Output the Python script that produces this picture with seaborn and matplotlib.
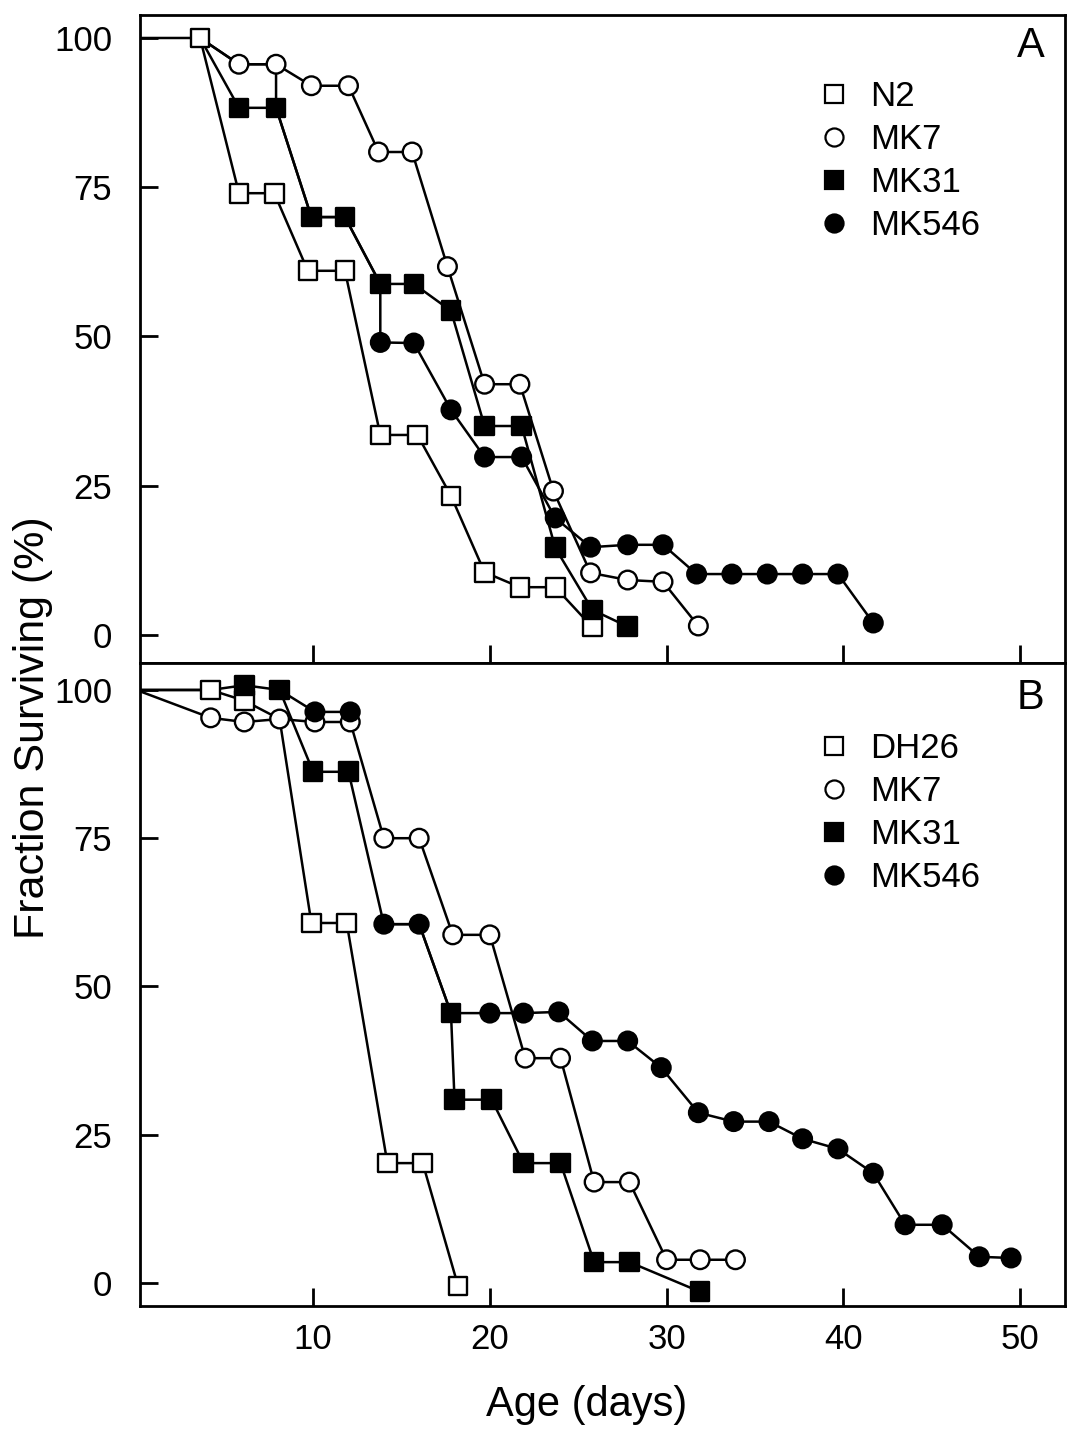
import numpy as np
import pandas as pd
import matplotlib
matplotlib.use("Agg")
import matplotlib.pyplot as plt
from matplotlib.lines import Line2D
import seaborn as sns

# ---------------- Panel A data (age in days, % surviving) ----------------
n2_a_days = [0, 3.6, 5.8, 7.8, 9.7, 11.8, 13.8, 15.9, 17.8, 19.7, 21.7, 23.7, 25.8]
n2_a_surv = [100, 100, 74, 74, 61, 61, 33.5, 33.5, 23.3, 10.5, 8, 8, 1.3]
n2_a_nomark = [0]

mk7_a_days = [3.6, 5.8, 7.9, 9.9, 12.0, 13.7, 15.6, 17.6, 19.7, 21.7, 23.6, 25.7, 27.8, 29.8, 31.8]
mk7_a_surv = [100, 95.6, 95.6, 92, 92, 80.9, 80.9, 61.7, 42, 42, 24.1, 10.4, 9.2, 8.9, 1.5]
mk7_a_nomark = [0]

mk31_a_days = [3.6, 5.8, 7.9, 9.9, 11.8, 13.8, 15.7, 17.8, 19.7, 21.8, 23.7, 25.8, 27.8]
mk31_a_surv = [100, 88.3, 88.3, 70, 70, 58.8, 58.8, 54.3, 35, 35, 14.6, 4.2, 1.4]
mk31_a_nomark = [0]

mk546_a_days = [3.6, 5.8, 7.9, 7.9, 9.9, 11.8, 13.8, 13.8, 15.7, 17.8, 19.7, 21.8, 23.7,
                25.7, 27.8, 29.8, 31.7, 33.7, 35.7, 37.7, 39.7, 41.7]
mk546_a_surv = [100, 95.6, 95.6, 88.3, 70, 70, 58.8, 49, 48.9, 37.7, 29.8, 29.8, 19.6,
                14.7, 15.1, 15.1, 10.2, 10.2, 10.2, 10.2, 10.2, 2]
mk546_a_nomark = [0, 1, 2, 3, 4, 5, 6]

# ---------------- Panel B data ----------------
dh26_b_days = [0, 4.2, 6.1, 8.1, 9.9, 11.9, 14.2, 16.2, 18.2]
dh26_b_surv = [100, 100, 98.2, 95.1, 60.7, 60.7, 20.2, 20.2, -0.5]
dh26_b_nomark = [0, 3]

mk7_b_days = [0, 4.2, 6.1, 8.1, 10.1, 12.1, 14.0, 16.0, 17.9, 20.0, 22.0, 24.0, 25.9,
              27.9, 30.0, 31.9, 33.9]
mk7_b_surv = [100, 95.3, 94.6, 95.1, 94.6, 94.6, 75, 75, 58.7, 58.7, 37.9, 37.9, 17,
              17, 3.9, 3.9, 3.9]
mk7_b_nomark = [0]

mk31_b_days = [0, 4.2, 6.1, 8.1, 10.0, 12.0, 14.0, 16.0, 17.8, 18.0, 20.1, 21.9, 24.0,
               25.9, 27.9, 31.9]
mk31_b_surv = [100, 100, 100.8, 100, 86.2, 86.2, 60.5, 60.5, 45.5, 30.9, 30.9, 20.2, 20.2,
               3.5, 3.5, -1.5]
mk31_b_nomark = [0, 1, 6, 7]

# NaN marks a break in the drawn line
mk546_b_days = [8.1, 10.1, 12.1, np.nan, 14.0, 16.0, 17.8, 20.0, 21.9, 23.9, 25.8, 27.8,
                29.7, 31.8, 33.8, 35.8, 37.7, 39.7, 41.7, 43.5, 45.6, 47.7, 49.5]
mk546_b_surv = [100, 96.3, 96.3, np.nan, 60.5, 60.5, 45.5, 45.5, 45.5, 45.7, 40.8, 40.8,
                36.3, 28.7, 27.2, 27.2, 24.3, 22.6, 18.5, 9.8, 9.8, 4.4, 4.2]
mk546_b_nomark = [0, 6]

panel_a = [("N2", n2_a_days, n2_a_surv, n2_a_nomark),
           ("MK7", mk7_a_days, mk7_a_surv, mk7_a_nomark),
           ("MK31", mk31_a_days, mk31_a_surv, mk31_a_nomark),
           ("MK546", mk546_a_days, mk546_a_surv, mk546_a_nomark)]
panel_b = [("DH26", dh26_b_days, dh26_b_surv, dh26_b_nomark),
           ("MK7", mk7_b_days, mk7_b_surv, mk7_b_nomark),
           ("MK31", mk31_b_days, mk31_b_surv, mk31_b_nomark),
           ("MK546", mk546_b_days, mk546_b_surv, mk546_b_nomark)]

marks = {"N2": "s", "DH26": "s", "MK7": "o", "MK31": "s", "MK546": "o"}
faces = {"N2": "white", "DH26": "white", "MK7": "white", "MK31": "black", "MK546": "black"}

y_ticks = [0, 25, 50, 75, 100]
x_ticks = [10, 20, 30, 40, 50]


def build_frame(series):
    rows = []
    for strain, days, surv, nomark in series:
        seg = 0
        for i, (d, s) in enumerate(zip(days, surv)):
            if np.isnan(d):
                seg += 1
                continue
            rows.append({"strain": strain, "day": d, "surv": s,
                         "unit": f"{strain}-{seg}", "mark": i not in nomark})
    return pd.DataFrame(rows)


sns.set_style("white")
plt.rcParams["font.family"] = ["Liberation Sans", "DejaVu Sans"]
plt.rcParams["text.color"] = "black"
plt.rcParams["axes.labelcolor"] = "black"
plt.rcParams["xtick.color"] = "black"
plt.rcParams["ytick.color"] = "black"

fig = plt.figure(figsize=(10.86, 14.48), dpi=100)
W, H = 1086, 1448
left, right = 140, 1065
ax_a = fig.add_axes([left / W, 1 - 663 / H, (right - left) / W, (663 - 15) / H])
ax_b = fig.add_axes([left / W, 1 - 1306 / H, (right - left) / W, (1306 - 663) / H])

setup = [(ax_a, panel_a, "A", (-4.7, 103.85), 0.900, 0.952),
         (ax_b, panel_b, "B", (-3.9, 104.55), 0.893, 0.946)]

for ax, series, letter, ylim, leg_y, let_y in setup:
    df = build_frame(series)
    sns.lineplot(data=df, x="day", y="surv", units="unit", estimator=None, sort=False,
                 color="black", linewidth=1.8, legend=False, ax=ax, zorder=2)
    dm = df[df["mark"]]
    sns.scatterplot(data=dm, x="day", y="surv", hue="strain", style="strain",
                    palette=faces, markers=marks, s=180, edgecolor="black",
                    linewidth=1.7, legend=False, ax=ax, zorder=3)
    ax.set_xlim(0.2, 52.55)
    ax.set_ylim(*ylim)
    ax.set_yticks(y_ticks)
    ax.set_xticks(x_ticks)
    ax.set_xlabel("")
    ax.set_ylabel("")
    for sp in ax.spines.values():
        sp.set_linewidth(2.0)
        sp.set_color("black")
    ax.tick_params(axis="both", which="both", direction="in", length=13, width=2,
                   colors="black", labelsize=25)
    ax.tick_params(axis="y", pad=20, left=True, right=False)
    ax.tick_params(axis="x", pad=12, bottom=True, top=False)
    ax.text(0.963, let_y, letter, transform=ax.transAxes, fontsize=30,
            ha="center", va="center", color="black")
    handles = [Line2D([], [], marker=marks[s], linestyle="none", markersize=13,
                      markerfacecolor=faces[s], markeredgecolor="black",
                      markeredgewidth=1.6, label=s) for s, *_ in series]
    ax.legend(handles=handles, loc="upper left", bbox_to_anchor=(0.731, leg_y),
              frameon=False, fontsize=25, handlelength=1.0, handletextpad=0.55,
              labelspacing=0.29, borderpad=0, borderaxespad=0, labelcolor="black")

ax_a.tick_params(axis="x", labelbottom=False)
ax_b.set_xlabel("Age (days)", fontsize=30, color="black")
ax_b.xaxis.set_label_coords((587 - left) / (right - left), -0.123)
fig.text(33 / W, 1 - 728 / H, "Fraction Surviving (%)", rotation=90, fontsize=31,
         ha="center", va="center", color="black")

fig.savefig("out.png", dpi=100)
